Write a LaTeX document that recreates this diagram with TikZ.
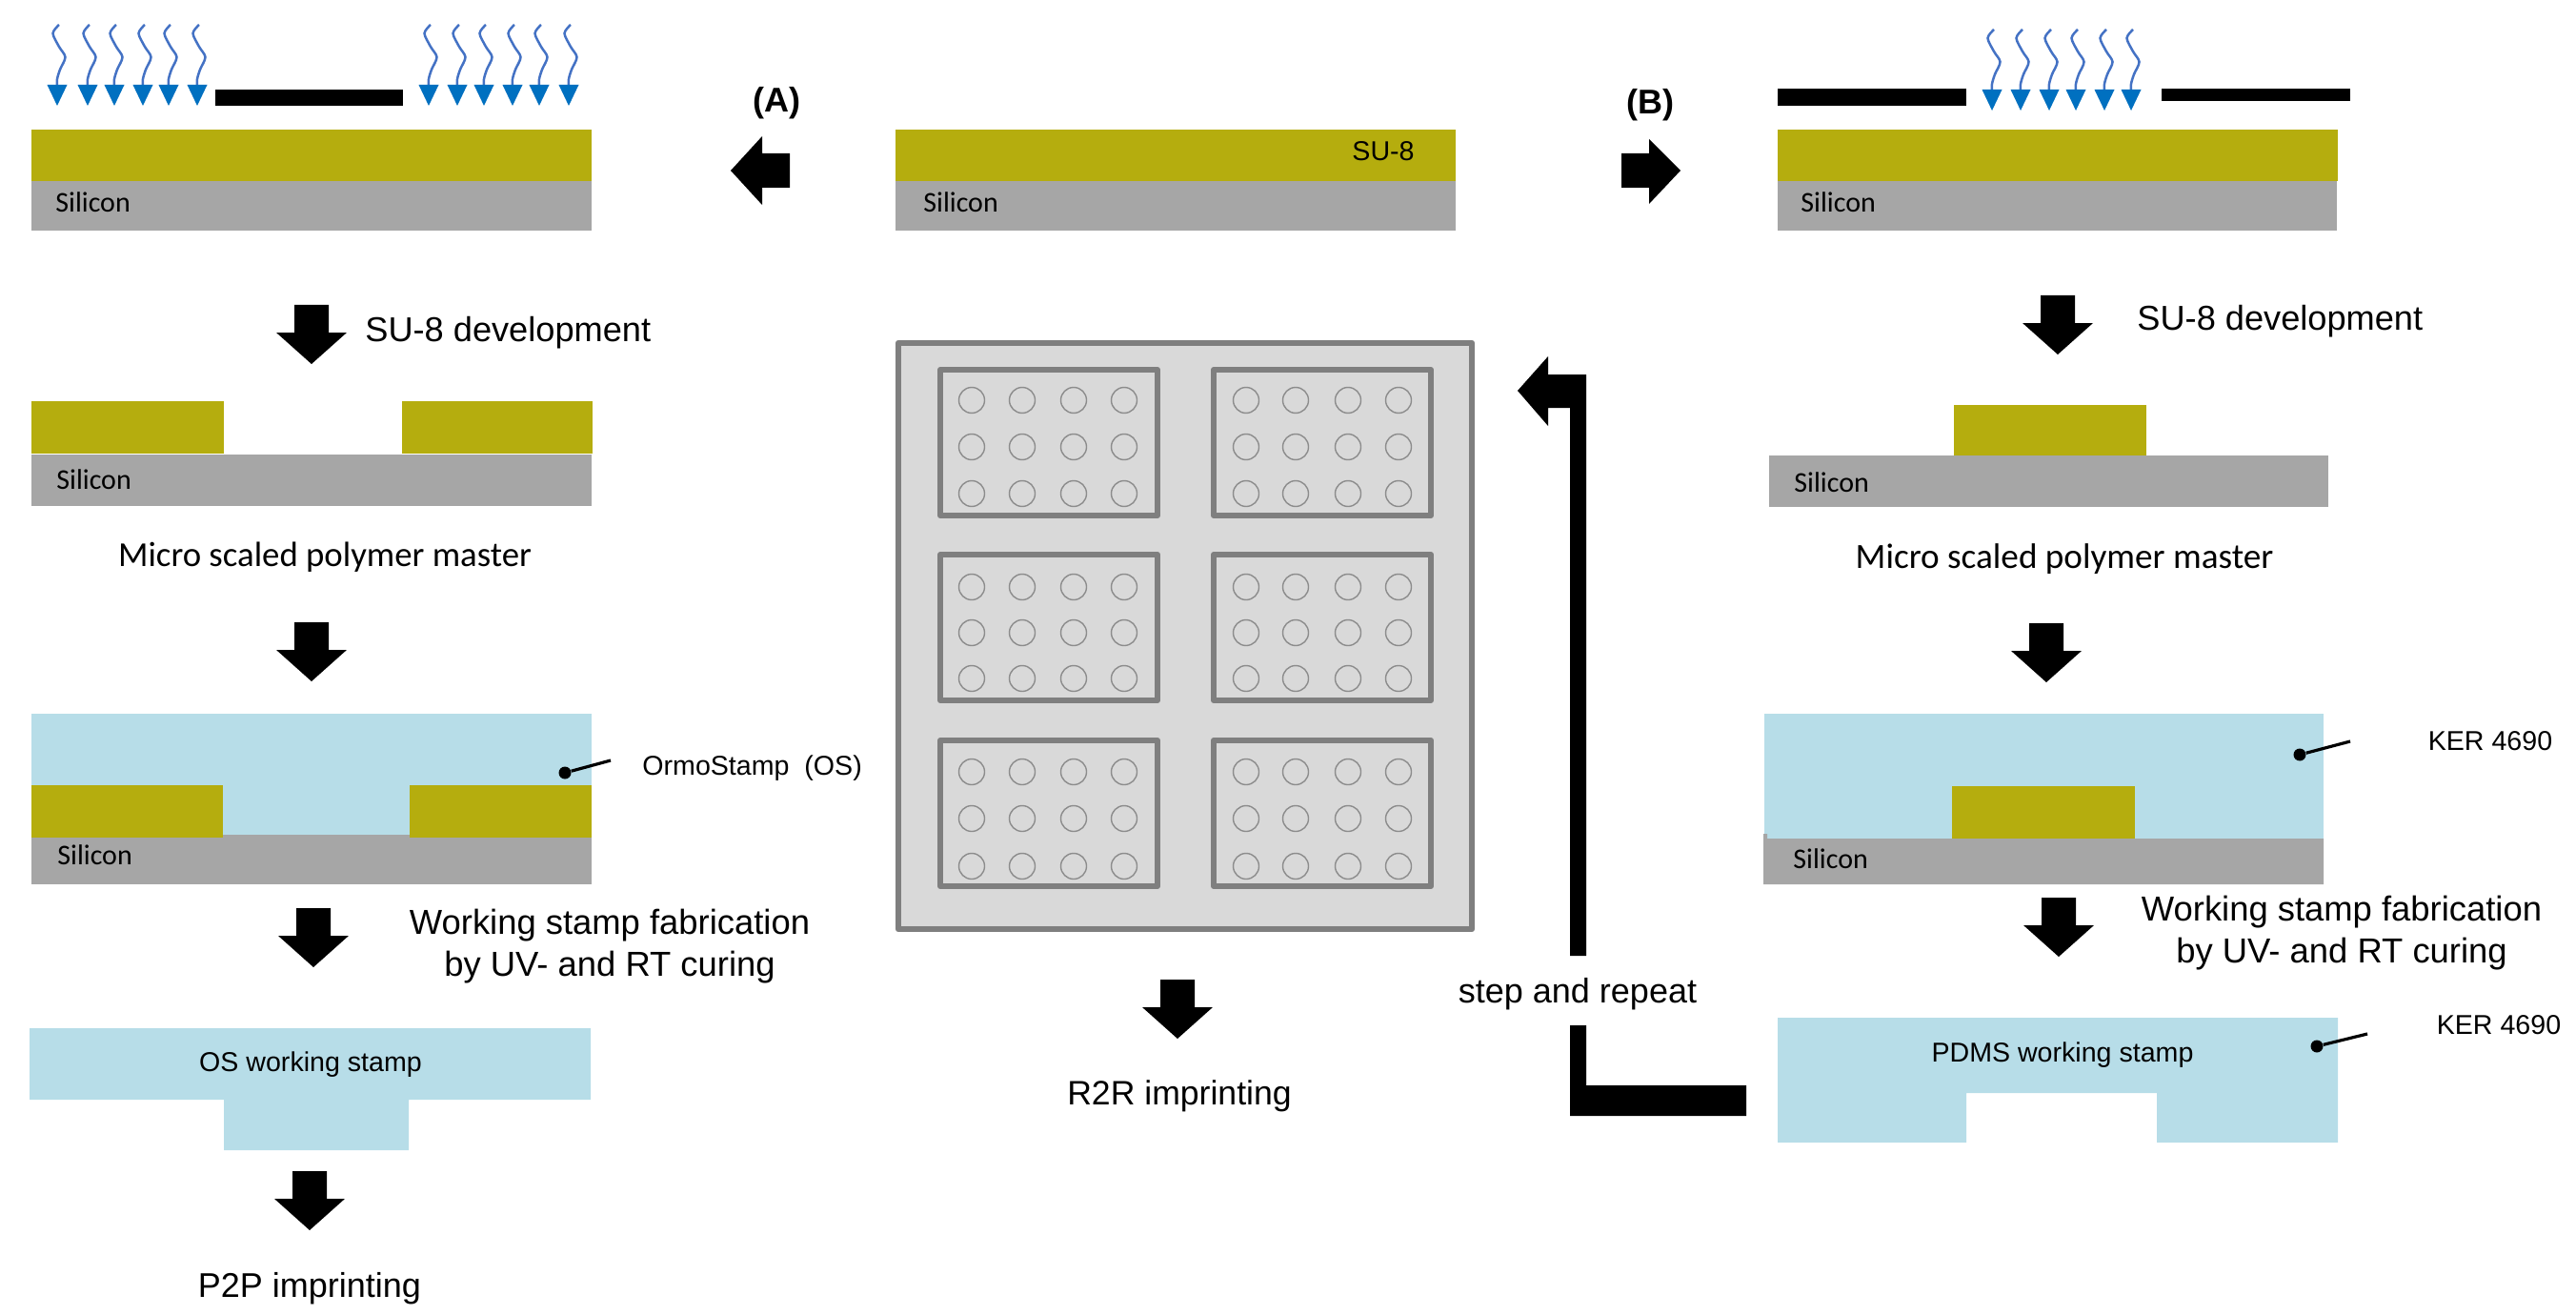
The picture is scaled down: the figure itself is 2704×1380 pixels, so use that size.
\documentclass[tikz,border=0pt]{standalone}
\usepackage{fontspec}
\setmainfont{Carlito}
\newfontfamily\arialf{Liberation Sans}
\definecolor{suyellow}{RGB}{181,173,14}
\definecolor{siliconc}{RGB}{166,166,166}
\definecolor{stampc}{RGB}{183,221,232}
\definecolor{uvhead}{RGB}{0,112,192}
\definecolor{uvwave}{RGB}{68,114,196}
\definecolor{plate}{RGB}{217,217,217}
\definecolor{plateedge}{RGB}{127,127,127}
\definecolor{dotedge}{RGB}{140,140,140}
\tikzset{
  x=0.5pt,y=-0.5pt,
  su/.style={fill=suyellow},
  si/.style={fill=siliconc},
  blue stamp/.style={fill=stampc},
  blk/.style={fill=black},
  silabel/.style={inner sep=0pt,anchor=west,font=\fontsize{15}{18}\selectfont},
  lab/.style={inner sep=0pt,font=\arialf\fontsize{18}{22}\selectfont},
  mic/.style={inner sep=0pt,font=\fontsize{18.4}{22}\selectfont},
  small/.style={inner sep=0pt,font=\arialf\fontsize{14.3}{17}\selectfont},
  letter/.style={inner sep=0pt,font=\arialf\bfseries\fontsize{18}{22}\selectfont},
  leader/.style={line width=1.6pt,black},
  leaderdot/.style={circle,fill=black,inner sep=0pt,minimum size=6.5pt},
  blockdown/.pic={\fill[black] (-18,0) -- (18,0) -- (18,29) -- (37,29) -- (0,62) -- (-37,29) -- (-18,29) -- cycle;},
  uvray/.pic={
    \draw[uvwave,line width=1.25pt] plot[smooth] coordinates {(2,-85) (-4.5,-76) (2,-62) (8.5,-51) (3,-38) (0,-28) (0,-20)};
    \fill[uvhead] (0,0) -- (-10.5,-22) -- (10.5,-22) -- cycle;},
  plate tile/.pic={
    \draw[plateedge,line width=3pt,fill=plate,line join=round] (0,0) rectangle (228,153);
  },
}
\begin{document}
\begin{tikzpicture}
\useasboundingbox (0,0) rectangle (2704,1380);

% --- Column A ---
\foreach \xx in {60,92,120,150,177,207,450,480,508,538,566,597} \pic at (\xx,111) {uvray};
\fill[blk] (226,94) rectangle (423,111);
\fill[su] (33,136) rectangle (621,190);
\fill[si] (33,190) rectangle (621,242);
\node[silabel] (siA1) at (58,212) {Silicon};
\fill[black] (767,179) -- (800,143) -- (800,161) -- (829,161) -- (829,197) -- (800,197) -- (800,215) -- cycle;
\node[letter] (labA) at (815,108) {(A)};

\pic at (327,320) {blockdown};
\node[lab,anchor=west,font=\arialf\fontsize{18.1}{22}\selectfont] (devA) at (383,349) {SU-8 development};
\fill[su] (33,421) rectangle (235,476);
\fill[su] (422,421) rectangle (622,476);
\fill[si] (33,477) rectangle (621,531);
\node[silabel] (siA2) at (59,503) {Silicon};
\node[mic] (micA) at (341,585) {Micro scaled polymer master};

\pic at (327,653) {blockdown};
\fill[blue stamp] (33,749) rectangle (621,878);
\fill[su] (33,824) rectangle (234,879);
\fill[su] (430,824) rectangle (621,879);
\fill[si] (33,879) rectangle (621,928);
\fill[si] (234,876) rectangle (430,880);
\node[silabel] (siA3) at (60,897) {Silicon};
\coordinate (leadA) at (641,798);
\node[leaderdot] (dotA) at (593,811) {};
\draw[leader] (dotA) -- (leadA);
\node[small,anchor=west] (osA) at (674,806) {OrmoStamp\ \ (OS)};

\pic at (329,953) {blockdown};
\node[lab,align=center,font=\arialf\fontsize{18.2}{22}\selectfont] (workA) at (640,993) {Working stamp fabrication\\by UV- and RT curing};
\fill[blue stamp] (31,1079) -- (620,1079) -- (620,1154) -- (429,1154) -- (429,1207) -- (235,1207) -- (235,1154) -- (31,1154) -- cycle;
\node[small] (stA) at (326,1117) {OS working stamp};
\pic at (325,1229) {blockdown};
\node[lab] (p2p) at (325,1352) {P2P imprinting};

% --- Centre ---
\fill[su] (940,136) rectangle (1528,190);
\fill[si] (940,190) rectangle (1528,242);
\node[silabel] (siC) at (969,212) {Silicon};
\node[small] (suC) at (1452,159) {SU-8};

\draw[plateedge,line width=3.2pt,fill=plate,line join=round] (943,360) rectangle (1545,975);
\foreach \tx in {987,1274} \foreach \ty in {388,582,777} \pic at (\tx,\ty) {plate tile};
\foreach \cx in {1020,1073,1127,1180,1308,1360,1415,1468}
  \foreach \cy in {420,469,518,616,664,712,810,859,909}
    \draw[dotedge,line width=0.7pt] (\cx,\cy) circle[radius=13.5];
\pic at (1236,1028) {blockdown};
\node[lab,font=\arialf\fontsize{17.8}{22}\selectfont] (r2r) at (1238,1150) {R2R imprinting};

% --- Return arrow ---
\fill[black] (1593,410) -- (1625,374) -- (1625,393) -- (1665,393) -- (1665,1003) -- (1648,1003) -- (1648,428) -- (1625,428) -- (1625,447) -- cycle;
\fill[black] (1648,1076) -- (1665,1076) -- (1665,1139) -- (1833,1139) -- (1833,1171) -- (1648,1171) -- cycle;
\node[lab,font=\arialf\fontsize{18}{22}\selectfont] (repeatlab) at (1656,1043) {step and repeat};

% --- Column B ---
\foreach \xx in {2091,2121,2151,2179,2209,2237} \pic at (\xx,116) {uvray};
\fill[blk] (1866,93) rectangle (2064,111);
\fill[blk] (2269,93) rectangle (2467,106);
\fill[su] (1866,136) rectangle (2454,190);
\fill[si] (1866,190) rectangle (2453,242);
\node[silabel] (siB1) at (1890,212) {Silicon};
\fill[black] (1764,179) -- (1731,146) -- (1731,161) -- (1702,161) -- (1702,197) -- (1731,197) -- (1731,214) -- cycle;
\node[letter] (labB) at (1732,110) {(B)};

\pic at (2160,310) {blockdown};
\node[lab,anchor=west,font=\arialf\fontsize{18.1}{22}\selectfont] (devB) at (2243,337) {SU-8 development};
\fill[su] (2051,425) rectangle (2253,479);
\fill[si] (1857,478) rectangle (2444,532);
\node[silabel] (siB2) at (1883,506) {Silicon};
\node[mic,font=\fontsize{18.6}{22}\selectfont] (micB) at (2167,587) {Micro scaled polymer master};

\pic at (2148,654) {blockdown};
\fill[blue stamp] (1852,749) rectangle (2439,881);
\fill[su] (2049,825) rectangle (2241,880);
\fill[si] (1851,875) -- (1855,875) -- (1855,880) -- (2439,880) -- (2439,928) -- (1851,928) -- cycle;
\node[silabel] (siB3) at (1882,901) {Silicon};
\coordinate (leadB) at (2467,778);
\node[leaderdot] (dotB) at (2414,792) {};
\draw[leader] (dotB) -- (leadB);
\node[small] (kerB) at (2614,778) {KER 4690};

\pic at (2161,942) {blockdown};
\node[lab,align=center,font=\arialf\fontsize{18.2}{22}\selectfont] (workB) at (2458,979) {Working stamp fabrication\\by UV- and RT curing};
\fill[blue stamp] (1866,1068) -- (2454,1068) -- (2454,1199) -- (2264,1199) -- (2264,1147) -- (2064,1147) -- (2064,1199) -- (1866,1199) -- cycle;
\node[small] (stB) at (2165,1107) {PDMS working stamp};
\coordinate (leadC) at (2485,1085);
\node[leaderdot] (dotC) at (2432,1098) {};
\draw[leader] (dotC) -- (leadC);
\node[small] (kerC) at (2623,1076) {KER 4690};
\end{tikzpicture}
\end{document}
